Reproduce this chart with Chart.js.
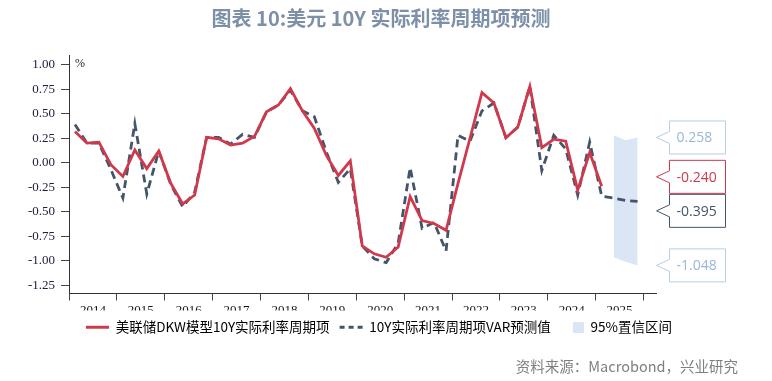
<!DOCTYPE html>
<html>
<head>
<meta charset="utf-8">
<script src="https://cdn.jsdelivr.net/npm/chart.js@4/dist/chart.umd.min.js"></script>
<style>
  body { margin: 0; background: #fff; }
</style>
</head>
<body>
<canvas id="graphique" width="772" height="381"></canvas>
<script>
// données (trimestriel)
const quarters = [
  '2014Q1', '2014Q2', '2014Q3', '2014Q4', '2015Q1', '2015Q2', '2015Q3', '2015Q4',
  '2016Q1', '2016Q2', '2016Q3', '2016Q4', '2017Q1', '2017Q2', '2017Q3', '2017Q4',
  '2018Q1', '2018Q2', '2018Q3', '2018Q4', '2019Q1', '2019Q2', '2019Q3', '2019Q4',
  '2020Q1', '2020Q2', '2020Q3', '2020Q4', '2021Q1', '2021Q2', '2021Q3', '2021Q4',
  '2022Q1', '2022Q2', '2022Q3', '2022Q4', '2023Q1', '2023Q2', '2023Q3', '2023Q4',
  '2024Q1', '2024Q2', '2024Q3', '2024Q4', '2025Q1', '2025Q2', '2025Q3', '2025Q4'
];
const dkwValues = [
  0.32, 0.20, 0.21, -0.02, -0.14, 0.13, -0.06, 0.12, -0.21, -0.42, -0.33, 0.26,
  0.245, 0.18, 0.20, 0.27, 0.52, 0.59, 0.757, 0.53, 0.35, 0.075, -0.13, 0.02,
  -0.85, -0.93, -0.965, -0.86, -0.345, -0.59, -0.62, -0.69, -0.21, 0.25, 0.716, 0.61,
  0.255, 0.365, 0.78, 0.155, 0.24, 0.22, -0.28, 0.105, -0.24
];
const varValues = [
  0.39, 0.20, 0.20, -0.07, -0.36, 0.40, -0.32, 0.12, -0.22, -0.45, -0.30, 0.26,
  0.26, 0.19, 0.29, 0.26, 0.52, 0.59, 0.74, 0.53, 0.47, 0.11, -0.20, -0.06,
  -0.85, -0.98, -1.02, -0.82, -0.05, -0.67, -0.61, -0.90, 0.28, 0.22, 0.53, 0.61,
  0.256, 0.364, 0.78, -0.08, 0.28, 0.14, -0.33, 0.21, -0.34, -0.36, -0.385, -0.395
];
const bandQuarters = ['2025Q2', '2025Q3', '2025Q4'];
const bandUpper = [0.28, 0.23, 0.258];
const bandLower = [-0.965, -1.01, -1.048];
const yearLabels = ['2014', '2015', '2016', '2017', '2018', '2019', '2020', '2021', '2022', '2023', '2024', '2025'];
const seriesNames = ['美联储DKW模型10Y实际利率周期项', '10Y实际利率周期项VAR预测值', '95%置信区间'];
const titre = '图表 10:美元 10Y 实际利率周期项预测';
const source = '资料来源：Macrobond，兴业研究';

const ROUGE = '#d0394c';
const MARINE = '#44546a';
const BLEU_BANDE = '#dae5f5';
const BLEU_TEXTE = '#9ab6da';
const BLEU_BORD = '#b8cde6';

// milieu du trimestre en années décimales
function quarterToX(q) {
  const annee = parseInt(q.slice(0, 4));
  const trim = parseInt(q.slice(5));
  return annee + (3 * (trim - 1) + 1.5) / 12;
}

function toPoints(labels, values) {
  return values.map((v, i) => ({ x: quarterToX(labels[i]), y: v }));
}

// petit carré pour la légende de la bande
const carre = document.createElement('canvas');
carre.width = 23;
carre.height = 11;
const cctx = carre.getContext('2d');
cctx.fillStyle = BLEU_BANDE;
cctx.fillRect(12, 0, 11, 11);

// titre, source, "%" et étiquettes de droite
const decorations = {
  id: 'decorations',
  afterDraw(chart) {
    const { ctx, chartArea, scales } = chart;
    const y = scales.y;
    ctx.save();
    ctx.fillStyle = '#7d90a8';
    ctx.font = 'bold 20px "Noto Sans CJK SC", sans-serif';
    ctx.textAlign = 'center';
    ctx.textBaseline = 'middle';
    ctx.fillText(titre, 381, 18);

    ctx.fillStyle = '#808080';
    ctx.font = '14.5px "Noto Sans CJK SC", sans-serif';
    ctx.textAlign = 'right';
    ctx.fillText(source, 738, 366);

    ctx.fillStyle = '#202040';
    ctx.font = '12px "Liberation Serif", serif';
    ctx.textAlign = 'left';
    ctx.fillText('%', chartArea.left + 6, y.getPixelForValue(1.0) - 1);

    // étiquettes des dernières valeurs
    const items = [
      { v: bandUpper[bandUpper.length - 1], bord: BLEU_BORD, texte: BLEU_TEXTE },
      { v: dkwValues[dkwValues.length - 1], bord: ROUGE, texte: ROUGE },
      { v: varValues[varValues.length - 1], bord: MARINE, texte: MARINE },
      { v: bandLower[bandLower.length - 1], bord: BLEU_BORD, texte: BLEU_TEXTE }
    ];
    const h = 34;
    items.forEach(it => { it.cy = y.getPixelForValue(it.v); });
    items.sort((a, b) => a.cy - b.cy);
    // regrouper les étiquettes qui se chevauchent
    let groupes = items.map(it => ({ items: [it], centre: it.cy }));
    let fini = false;
    while (!fini) {
      fini = true;
      for (let i = 0; i < groupes.length - 1; i++) {
        const a = groupes[i], b = groupes[i + 1];
        const basA = a.centre + a.items.length * h / 2;
        const hautB = b.centre - b.items.length * h / 2;
        if (basA > hautB) {
          const tous = a.items.concat(b.items);
          const centre = tous.reduce((s, it) => s + it.cy, 0) / tous.length;
          groupes.splice(i, 2, { items: tous, centre: centre });
          fini = false;
          break;
        }
      }
    }
    groupes.forEach(g => {
      g.items.forEach((it, k) => {
        it.py = g.centre - (g.items.length - 1) * h / 2 + k * h;
      });
    });

    const x0 = chartArea.right + 13.5;
    const w = 56;
    ctx.font = '14px "Open Sans", sans-serif';
    ctx.textBaseline = 'middle';
    items.forEach(it => {
      const top = it.py - h / 2 + 0.5;
      const bas = it.py + h / 2 - 0.5;
      ctx.beginPath();
      ctx.moveTo(x0, it.py - 6);
      ctx.lineTo(x0, top);
      ctx.lineTo(x0 + w, top);
      ctx.lineTo(x0 + w, bas);
      ctx.lineTo(x0, bas);
      ctx.lineTo(x0, it.py + 6);
      ctx.lineTo(chartArea.right + 0.5, it.py);
      ctx.closePath();
      ctx.fillStyle = '#fff';
      ctx.fill();
      ctx.strokeStyle = it.bord;
      ctx.lineWidth = 1;
      ctx.stroke();
      ctx.fillStyle = it.texte;
      ctx.textAlign = 'left';
      ctx.fillText(it.v.toFixed(3), x0 + 7, it.py + 1);
    });
    ctx.restore();
  }
};

const ctx = document.getElementById('graphique').getContext('2d');
const monGraphique = new Chart(ctx, {
  type: 'line',
  data: {
    datasets: [{
      label: seriesNames[0],
      data: toPoints(quarters, dkwValues),
      borderColor: ROUGE,
      borderWidth: 2.8,
      pointRadius: 0,
      tension: 0,
      fill: false
    }, {
      label: seriesNames[1],
      data: toPoints(quarters, varValues),
      borderColor: MARINE,
      borderWidth: 2.8,
      borderDash: [8, 5],
      pointRadius: 0,
      tension: 0,
      fill: false
    }, {
      label: seriesNames[2],
      data: toPoints(bandQuarters, bandUpper),
      borderWidth: 0,
      borderColor: 'rgba(0,0,0,0)',
      backgroundColor: BLEU_BANDE,
      pointRadius: 0,
      fill: '+1'
    }, {
      label: 'bas',
      data: toPoints(bandQuarters, bandLower),
      borderWidth: 0,
      borderColor: 'rgba(0,0,0,0)',
      pointRadius: 0,
      fill: false
    }]
  },
  options: {
    responsive: false,
    animation: false,
    events: [],
    layout: { padding: { top: 55, right: 14, bottom: 37, left: 0 } },
    plugins: {
      tooltip: { enabled: false },
      title: { display: false },
      legend: {
        position: 'bottom',
        labels: {
          usePointStyle: true,
          pointStyleWidth: 23,
          boxHeight: 14,
          padding: 10,
          color: '#222',
          font: { family: '"Noto Sans CJK SC", sans-serif', size: 13.5 },
          generateLabels: () => [
            { text: seriesNames[0], strokeStyle: ROUGE, fillStyle: ROUGE, lineWidth: 2.8, pointStyle: 'line', lineDash: [] },
            { text: seriesNames[1], strokeStyle: MARINE, fillStyle: MARINE, lineWidth: 2.8, pointStyle: 'line', lineDash: [5, 4] },
            { text: seriesNames[2], strokeStyle: BLEU_BANDE, fillStyle: BLEU_BANDE, lineWidth: 0, pointStyle: carre }
          ]
        }
      }
    },
    scales: {
      x: {
        type: 'linear',
        position: 'bottom',
        min: 2014,
        max: 2026.26,
        afterFit: s => { s.height = 17; },
        border: { display: true, color: '#333', width: 1 },
        grid: {
          drawOnChartArea: false,
          drawTicks: true,
          tickLength: 7,
          tickColor: c => (c.tick && Number.isInteger(c.tick.value)) ? '#444' : 'rgba(0,0,0,0)'
        },
        ticks: {
          stepSize: 0.5,
          autoSkip: false,
          maxRotation: 0,
          includeBounds: false,
          padding: 2,
          color: '#111',
          font: { family: '"Liberation Serif", serif', size: 13 },
          callback: v => {
            const i = Math.floor(v) - 2014;
            return (v % 1 !== 0 && yearLabels[i]) ? yearLabels[i] : '';
          }
        }
      },
      y: {
        type: 'linear',
        position: 'left',
        min: -1.335,
        max: 1.1,
        afterFit: s => { s.width = 69; },
        border: { display: true, color: '#333', width: 1 },
        grid: { drawOnChartArea: false, drawTicks: true, tickLength: 8, tickColor: '#444' },
        ticks: {
          stepSize: 0.25,
          includeBounds: false,
          padding: 6,
          color: '#202040',
          font: { family: '"Liberation Serif", serif', size: 13 },
          callback: v => Math.abs(v) < 1e-9 ? '0.00' : v.toFixed(2)
        }
      },
      droite: {
        type: 'linear',
        position: 'right',
        afterFit: s => { s.width = 102; },
        border: { display: false },
        grid: { display: false },
        ticks: { display: false }
      }
    }
  },
  plugins: [decorations]
});
</script>
</body>
</html>
